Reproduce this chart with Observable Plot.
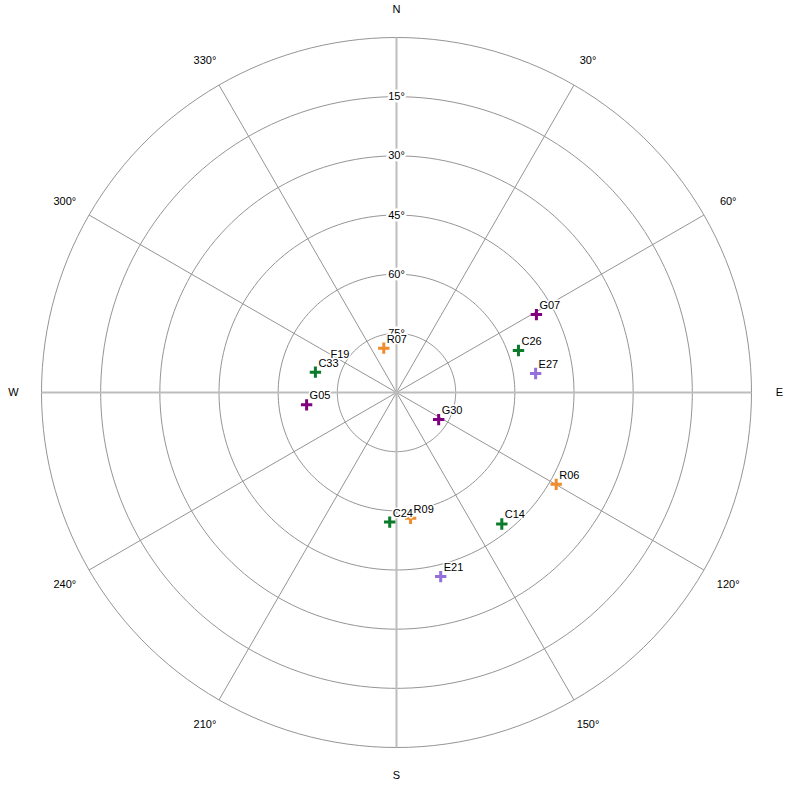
<!DOCTYPE html>
<html>
<head>
<meta charset="utf-8">
<script src="https://cdn.jsdelivr.net/npm/d3@7"></script>
<script src="https://cdn.jsdelivr.net/npm/@observablehq/plot@0.6"></script>
<style>
  html, body { margin: 0; padding: 0; background: white; }
  #chart { width: 786px; height: 788px; }
</style>
</head>
<body>
<div id="chart"></div>
<script>
// Satellites (name, azimuth in degrees clockwise from N, elevation in degrees)
const sats      = ["G07", "C26", "E27", "G30", "R06", "C14", "E21", "R09", "C24", "G05", "C33", "R07", "F19"];
const azimuths  = [60.9, 71.0, 82.2, 122.7, 119.9, 141.3, 166.5, 173.6, 183.0, 262.2, 284.1, 344.0, 292.8];
const elevations= [49.4, 57.3, 54.4, 77.3, 43.3, 47.3, 42.0, 57.9, 57.1, 67.0, 68.8, 78.3, 71.0];

// Constellation colours
const systems = ["G", "C", "R", "E"];
const systemColors = ["#800080", "#0b7a2b", "#f08c2c", "#9370db"];

// Grid
const ringElevations = [0, 15, 30, 45, 60, 75];
const elevationLabels = [15, 30, 45, 60, 75];
const spokeAzimuths = [0, 30, 60, 90, 120, 150, 180, 210, 240, 270, 300, 330];
const azimuthLabels = ["N", "30°", "60°", "E", "120°", "150°", "S", "210°", "240°", "W", "300°", "330°"];

const lon = az => 180 - az;

const data = sats.map((s, i) => ({name: s, sys: s[0], az: azimuths[i], el: elevations[i]}));
const plotted = data.filter(d => systems.includes(d.sys));
const rings = ringElevations.map(e => d3.geoCircle().center([0, 90]).radius(90 - e)());
const spokes = spokeAzimuths.map(a => ({az: a, main: a % 90 === 0}));
const azLabels = spokeAzimuths.map((a, i) => ({az: a, label: azimuthLabels[i]}));

const chart = Plot.plot({
  width: 786,
  height: 788,
  marginTop: 37,
  marginLeft: 41,
  marginRight: 35,
  marginBottom: 41,
  style: {fontFamily: "'Liberation Sans', Arial, sans-serif", fontSize: "11px", background: "white"},
  projection: {
    type: "azimuthal-equidistant",
    rotate: [0, -90],
    domain: d3.geoCircle().center([0, 90]).radius(90)(),
    clip: false
  },
  color: {domain: systems, range: systemColors},
  marks: [
    Plot.geo(rings, {stroke: "#959595", strokeWidth: 1, fill: "none"}),
    Plot.link(spokes.filter(d => !d.main), {
      x1: d => lon(d.az), y1: 0, x2: d => lon(d.az), y2: 90,
      stroke: "#959595", strokeWidth: 1
    }),
    Plot.link(spokes.filter(d => d.main), {
      x1: d => lon(d.az), y1: 0, x2: d => lon(d.az), y2: 90,
      stroke: "#bdbdbd", strokeWidth: 2
    }),
    Plot.text(elevationLabels, {
      x: () => lon(0), y: d => d, text: d => `${d}°`,
      fill: "black", stroke: "white", strokeWidth: 5, fontSize: 11
    }),
    Plot.text(azLabels, {
      x: d => lon(d.az), y: -7.1, text: "label", fill: "black", fontSize: 11
    }),
    Plot.dot(plotted, {
      x: d => lon(d.az), y: "el", symbol: "plus", r: 3.75,
      stroke: "sys", strokeWidth: 3
    }),
    Plot.text(data, {
      x: d => lon(d.az), y: "el", text: "name",
      textAnchor: "start", dx: 3, dy: -9,
      fill: "black", stroke: "white", strokeWidth: 3, fontSize: 11
    })
  ]
});
document.getElementById("chart").appendChild(chart);
</script>
</body>
</html>
